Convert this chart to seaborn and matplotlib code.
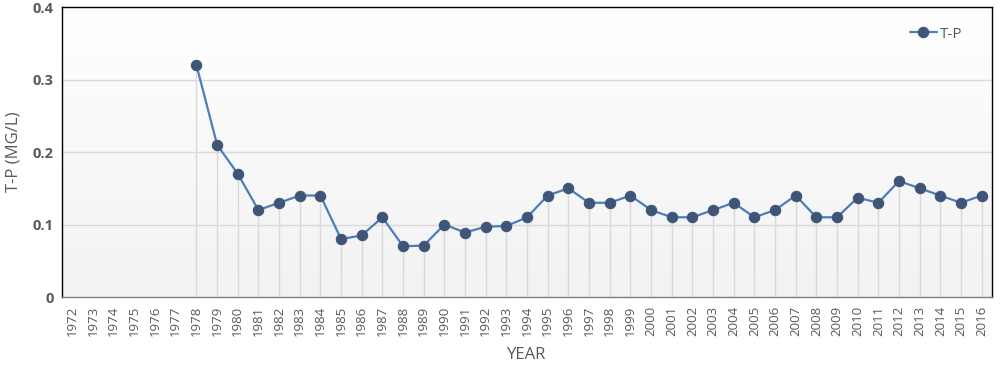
import numpy as np
import pandas as pd
import matplotlib
matplotlib.use("Agg")
import matplotlib.pyplot as plt
import seaborn as sns

years = list(range(1972, 2017))
tp_values = [np.nan, np.nan, np.nan, np.nan, np.nan, np.nan,
             0.32, 0.21, 0.17, 0.12, 0.13, 0.14, 0.14, 0.08, 0.085,
             0.11, 0.07, 0.071, 0.10, 0.089, 0.097, 0.098, 0.11, 0.14,
             0.15, 0.13, 0.13, 0.14, 0.12, 0.11, 0.11, 0.12, 0.13,
             0.11, 0.12, 0.14, 0.11, 0.11, 0.137, 0.13, 0.16, 0.15,
             0.14, 0.13, 0.14]
y_ticks = [0, 0.1, 0.2, 0.3, 0.4]
y_tick_labels = ["0", "0.1", "0.2", "0.3", "0.4"]

df = pd.DataFrame({"YEAR": years, "T-P": tp_values})

sns.set_style("white")
plt.rcParams["font.family"] = ["Open Sans", "DejaVu Sans"]

grey = "#595959"
line_color = "#4a7ebb"
marker_color = "#3e5578"

fig = plt.figure(figsize=(10.02, 3.69), dpi=100)
ax = fig.add_axes([0.062, 0.195, 0.928, 0.786])

# gradient background, white at top to light grey at bottom
grad = np.linspace(0, 1, 256).reshape(-1, 1)
cmap = matplotlib.colors.LinearSegmentedColormap.from_list("bg", ["#f2f2f2", "#ffffff"])
ax.imshow(grad, extent=[0, 1, 0, 1], transform=ax.transAxes, cmap=cmap,
          aspect="auto", origin="lower", zorder=0)

# drop lines from each point
valid = df.dropna()
ax.vlines(valid["YEAR"], 0, valid["T-P"], color="#d9d9d9", lw=1, zorder=1)

for yv in y_ticks[1:-1]:
    ax.axhline(yv, color="#d9d9d9", lw=1, zorder=1)

sns.lineplot(data=valid, x="YEAR", y="T-P", ax=ax, color=line_color, lw=1.6,
             marker="o", markersize=7.5, markerfacecolor=marker_color,
             markeredgecolor=marker_color, label="T-P", zorder=3)

ax.set_xlim(1971.5, 2016.5)
ax.set_ylim(0, 0.4)
ax.set_xticks(years)
ax.set_xticklabels([str(y) for y in years], rotation=90, fontsize=9.5, color=grey)
ax.set_yticks(y_ticks)
ax.set_yticklabels(y_tick_labels, fontsize=10.5, fontweight="bold", color=grey)
ax.tick_params(axis="both", length=0, pad=6)

ax.set_xlabel("YEAR", fontsize=12, color=grey, labelpad=8)
ax.set_ylabel("T-P (MG/L)", fontsize=12, color=grey, labelpad=8)

for side in ["top", "left", "right"]:
    ax.spines[side].set_color("black")
    ax.spines[side].set_linewidth(1)
ax.spines["bottom"].set_color("#808080")
ax.spines["bottom"].set_linewidth(1)

leg = ax.legend(loc="upper right", frameon=False, fontsize=11,
                handlelength=1.8, handletextpad=0.2, borderaxespad=0.6,
                bbox_to_anchor=(0.985, 0.985))
for t in leg.get_texts():
    t.set_color(grey)

fig.savefig("out.png", dpi=100)
